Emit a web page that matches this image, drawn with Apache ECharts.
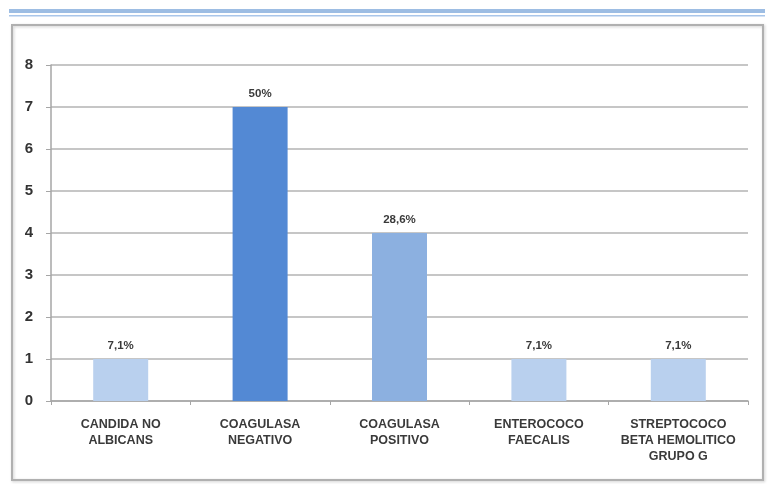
<!DOCTYPE html>
<html>
<head>
<meta charset="utf-8">
<script src="https://cdn.jsdelivr.net/npm/echarts@6/dist/echarts.min.js"></script>
<style>
  html, body { margin: 0; padding: 0; background: #ffffff; }
  #chart { width: 768px; height: 484px; }
</style>
</head>
<body>
<div id="chart"></div>
<script>
// Microorganisms isolated: counts per category and their share of the total
const categories = [
  'CANDIDA NO\nALBICANS',
  'COAGULASA\nNEGATIVO',
  'COAGULASA\nPOSITIVO',
  'ENTEROCOCO\nFAECALIS',
  'STREPTOCOCO\nBETA HEMOLITICO\nGRUPO G'
];
const counts = [1, 7, 4, 1, 1];
const percentLabels = ['7,1%', '50%', '28,6%', '7,1%', '7,1%'];
const barColors = ['#b9d0ee', '#5389d4', '#8cb0e0', '#b9d0ee', '#b9d0ee'];
const yTicks = [0, 1, 2, 3, 4, 5, 6, 7, 8];

const chart = echarts.init(document.getElementById('chart'), null, { renderer: 'canvas' });

chart.setOption({
  backgroundColor: '#ffffff',
  animation: false,
  graphic: [
    // header rules
    { type: 'rect', shape: { x: 9, y: 9, width: 756, height: 4 }, style: { fill: '#9dbde3' } },
    { type: 'rect', shape: { x: 9, y: 15, width: 756, height: 1.5 }, style: { fill: '#a9c6ea' } },
    // chart frame
    { type: 'rect', shape: { x: 12, y: 25, width: 751, height: 455 },
      style: { fill: 'none', stroke: '#b0b0b0', lineWidth: 2,
               shadowColor: 'rgba(0,0,0,0.2)', shadowBlur: 3, shadowOffsetX: 1, shadowOffsetY: 1 } }
  ],
  grid: { left: 51, right: 20, top: 65, bottom: 83, containLabel: false },
  xAxis: {
    type: 'category',
    data: categories,
    axisLine: { lineStyle: { color: '#a6a6a6', width: 1.5 } },
    axisTick: { show: true, length: 4, lineStyle: { color: '#a6a6a6' } },
    axisLabel: {
      interval: 0,
      margin: 16,
      color: '#3a3a3a',
      fontFamily: 'Liberation Sans, Arial, sans-serif',
      fontWeight: 'bold',
      fontSize: 12.5,
      lineHeight: 16
    }
  },
  yAxis: {
    type: 'value',
    min: yTicks[0],
    max: yTicks[yTicks.length - 1],
    interval: 1,
    axisLine: { show: true, lineStyle: { color: '#a6a6a6', width: 1.5 } },
    axisTick: { show: true, length: 5, lineStyle: { color: '#a6a6a6' } },
    axisLabel: {
      margin: 18,
      color: '#333333',
      fontFamily: 'Liberation Sans, Arial, sans-serif',
      fontWeight: 'bold',
      fontSize: 15
    },
    splitLine: { lineStyle: { color: '#b3b3b3', width: 1.5 } }
  },
  series: [{
    type: 'bar',
    barWidth: 55,
    data: counts.map((v, i) => ({ value: v, itemStyle: { color: barColors[i] } })),
    label: {
      show: true,
      position: 'top',
      distance: 7,
      formatter: p => percentLabels[p.dataIndex],
      color: '#3a3a3a',
      fontFamily: 'Liberation Sans, Arial, sans-serif',
      fontWeight: 'bold',
      fontSize: 11.5
    }
  }]
});
</script>
</body>
</html>
